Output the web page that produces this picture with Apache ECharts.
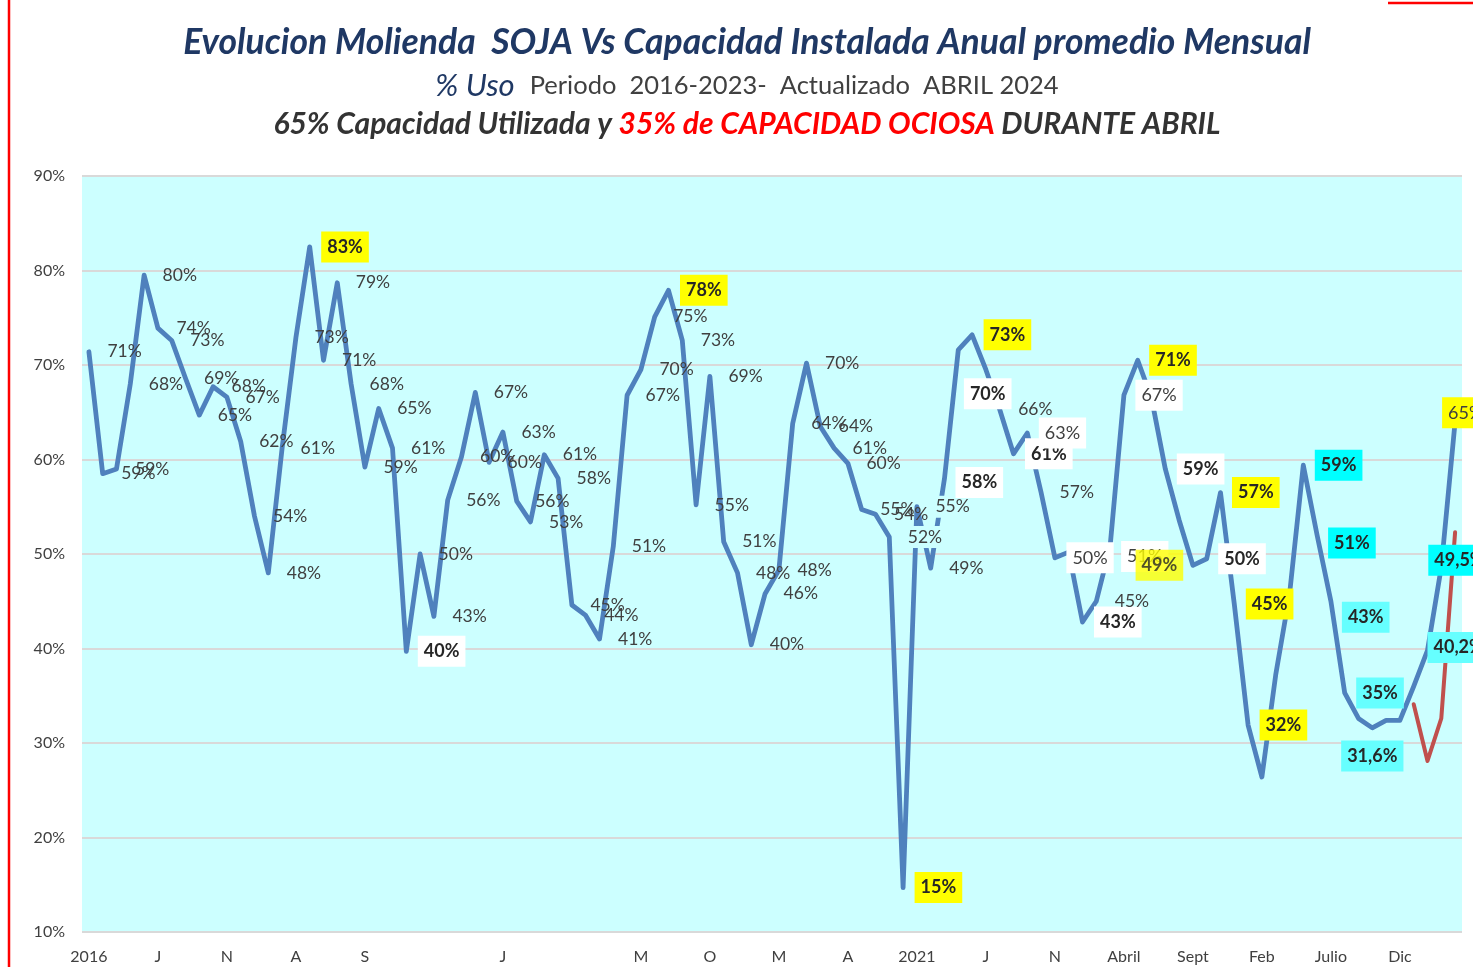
<!DOCTYPE html>
<html><head><meta charset="utf-8">
<script src="https://cdn.jsdelivr.net/npm/echarts@6/dist/echarts.min.js"></script>
<style>html,body{margin:0;padding:0;background:#fff}#c{width:1473px;height:967px}</style>
</head><body><div id="c"></div>
<script>
// Categories: monthly, Jan 2016 .. Apr 2024
const months = [];
for (let y = 2016; y <= 2024; y++) for (let m = 1; m <= 12; m++) { if (y === 2024 && m > 4) break; months.push(y + '-' + (m < 10 ? '0' + m : m)); }

// Tick labels shown every 5 months
const tickLabels = ['2016','J','N','A','S','','J','','M','O','M','A','2021','J','N','Abril','Sept','Feb','Julio','Dic'];

// % Uso capacidad (blue line)
const usoValues = [
  71.4,58.5,59.0,68.0,79.5,73.9,72.6,68.6,64.7,67.7,66.6,61.9,
  54.0,48.0,61.2,72.9,82.5,70.5,78.7,68.0,59.2,65.4,61.2,39.7,
  50.0,43.4,55.7,60.3,67.1,59.7,62.9,55.6,53.4,60.5,58.0,44.6,
  43.5,41.0,50.8,66.8,69.5,75.1,77.9,72.6,55.2,68.8,51.3,48.0,
  40.4,45.8,48.3,63.8,70.2,63.5,61.2,59.6,54.7,54.2,51.8,14.7,
  55.0,48.5,58.0,71.6,73.2,69.5,65.3,60.6,62.8,56.5,49.6,50.2,
  42.8,45.0,50.8,66.8,70.5,66.5,59.0,53.6,48.8,49.5,56.5,44.7,
  31.9,26.4,37.2,45.7,59.4,52.0,45.0,35.3,32.6,31.6,32.4,32.4,
  36.0,39.8,48.6,64.0
];

// Second (red) line, 2024 only
const redValues = [
  null,null,null,null,null,null,null,null,null,null,null,null,
  null,null,null,null,null,null,null,null,null,null,null,null,
  null,null,null,null,null,null,null,null,null,null,null,null,
  null,null,null,null,null,null,null,null,null,null,null,null,
  null,null,null,null,null,null,null,null,null,null,null,null,
  null,null,null,null,null,null,null,null,null,null,null,null,
  null,null,null,null,null,null,null,null,null,null,null,null,
  null,null,null,null,null,null,null,null,null,null,null,null,
  34.1,28.1,32.6,52.3
];

// Data label texts (as printed)
const labelTexts = [
  '71%','59%','59%','68%','80%','74%','73%','69%','65%','68%','67%','62%',
  '54%','48%','61%','73%','83%','71%','79%','68%','59%','65%','61%','40%',
  '50%','43%','56%','60%','67%','60%','63%','56%','53%','61%','58%','45%',
  '44%','41%','51%','67%','70%','75%','78%','73%','55%','69%','51%','48%',
  '40%','46%','48%','64%','70%','64%','61%','60%','55%','54%','52%','15%',
  '55%','49%','58%','','73%','70%','66%','61%','63%','57%','50%','',
  '43%','45%','51%','67%','71%','','59%','','','50%','57%','45%',
  '32%','','','','59%','51%','43%','35%','','31,6%','','',
  '','40,2%','49,5%','65%'
];

// Extra free label
const extraIdx = [74];
const extraValues = [48.8];
const extraTexts = ['49%'];

// ---- styling (kept apart from data) ----
const FONT = 'Lato';
const styleGroups = {
  yellowBold: [16,42,59,64,76,82,83,84],
  whiteNormal: [68,70,74,75],
  whiteBold: [23,62,65,67,72,78,81],
  cyan: [88,89,98],
  lightCyan: [90,91,93,97],
  yellowNormal: [99],
  plotBg: [58,60]
};
// custom label placement: [dx from point to box left, dy of box centre]
const labelPlacement = {62:[11,4], 65:[-22,24], 74:[11,10], 89:[11,8], 90:[11,16], 97:[0,-3], 98:[-13,-7], 99:[-13,-9]};
const bottomLabels = [93];

function boxStyle(bg, bold) {
  return {backgroundColor: bg, padding: [7,6,6,6], distance: 11, fontWeight: bold ? 'bold' : 'normal',
          fontSize: 18, color: bold ? '#262626' : '#404040'};
}
function labelFor(i) {
  let s = null;
  if (styleGroups.yellowBold.includes(i)) s = boxStyle('#FFFF00', true);
  else if (styleGroups.whiteNormal.includes(i)) s = boxStyle('#FFFFFF', false);
  else if (styleGroups.whiteBold.includes(i)) s = boxStyle('#FFFFFF', true);
  else if (styleGroups.cyan.includes(i)) s = boxStyle('#00FFFF', true);
  else if (styleGroups.lightCyan.includes(i)) s = boxStyle('#66FFFF', true);
  else if (styleGroups.yellowNormal.includes(i)) s = boxStyle('#FFFF00', false);
  else if (styleGroups.plotBg.includes(i)) s = {backgroundColor:'#CCFFFF', padding:[2,0,2,0]};
  else s = {};
  const p = labelPlacement[i];
  if (p) { s.position = [p[0] + 0.5, p[1] + 0.5]; s.align = 'left'; s.verticalAlign = 'middle'; }
  if (bottomLabels.includes(i)) { s.position = 'bottom'; s.distance = 12; }
  return s;
}

const labelData = usoValues.map((v, i) => ({value: v, label: labelFor(i)}));
const extraData = extraIdx.map((idx, k) => [months[idx], extraValues[k]]);

const chart = echarts.init(document.getElementById('c'), null, {renderer: 'canvas'});
chart.setOption({
  animation: false,
  backgroundColor: '#FFFFFF',
  title: [
    {text: 'Evolucion Molienda  SOJA Vs Capacidad Instalada Anual promedio Mensual',
     left: 747, textAlign: 'center', top: 25, padding: 0,
     textStyle: {fontFamily: FONT, fontStyle: 'italic', fontWeight: 'bold', fontSize: 35.5, color: '#1F3864'}},
    {text: '{a|% Uso}   {b|Periodo  2016-2023-  Actualizado  ABRIL 2024}',
     left: 747, textAlign: 'center', top: 70, padding: 0,
     textStyle: {fontWeight: 'normal', rich: {
       a: {fontFamily: FONT, fontStyle: 'italic', fontWeight: 'normal', fontSize: 31, color: '#1F3864'},
       b: {fontFamily: FONT, fontWeight: 'normal', fontSize: 25.5, color: '#404040'}}}},
    {text: '{a|65% Capacidad Utilizada y }{r|35% de CAPACIDAD OCIOSA}{a| DURANTE ABRIL}',
     left: 747, textAlign: 'center', top: 109, padding: 0,
     textStyle: {rich: {
       a: {fontFamily: FONT, fontStyle: 'italic', fontWeight: 'bold', fontSize: 30, color: '#333333'},
       r: {fontFamily: FONT, fontStyle: 'italic', fontWeight: 'bold', fontSize: 30, color: '#FF0000'}}}}
  ],
  grid: {left: 82, right: 11, top: 176, bottom: 35, show: true, backgroundColor: '#CCFFFF', borderWidth: 0},
  xAxis: {
    type: 'category', data: months, boundaryGap: true,
    axisLine: {show: false}, axisTick: {show: false},
    axisLabel: {interval: 4, margin: 17, color: '#404040', fontFamily: FONT, fontSize: 16,
      formatter: (v, i) => tickLabels[Math.round(i / 5)] || ''}
  },
  yAxis: {
    type: 'value', min: 10, max: 90, interval: 10,
    axisLine: {show: false}, axisTick: {show: false},
    axisLabel: {formatter: '{value}%', margin: 17, color: '#404040', fontFamily: FONT, fontSize: 16},
    splitLine: {lineStyle: {color: '#D9D9D9', width: 2}}
  },
  series: [
    {type: 'line', name: 'Uso', data: usoValues, symbol: 'none',
     lineStyle: {color: '#4F81BD', width: 4.8, cap: 'round', join: 'round'}, itemStyle: {color: '#4F81BD'}, z: 2},
    {type: 'line', name: '2024', data: redValues, symbol: 'none', connectNulls: false,
     lineStyle: {color: '#C0504D', width: 4, cap: 'round', join: 'round'}, z: 3},
    // label layer (same values) drawn above the lines
    {type: 'line', name: 'etiquetas', data: labelData, symbol: 'circle', symbolSize: 1, showSymbol: true, showAllSymbol: true,
     lineStyle: {opacity: 0, width: 0}, itemStyle: {color: 'rgba(0,0,0,0)'},
     label: {show: true, position: 'right', distance: 18, color: '#404040', fontFamily: FONT, fontSize: 17.5,
             formatter: p => labelTexts[p.dataIndex]},
     labelLayout: {hideOverlap: false}, z: 10, zlevel: 1},
    {type: 'scatter', name: 'nota', data: extraData, symbolSize: 1, itemStyle: {color: 'rgba(0,0,0,0)'},
     label: {show: true, position: 'right', distance: 25, formatter: p => extraTexts[p.dataIndex],
             backgroundColor: '#FFFF00', padding: [7,6,6,6], fontWeight: 'bold', fontSize: 18, color: '#262626', fontFamily: FONT},
     z: 12, zlevel: 2}
  ],
  graphic: [
    {type: 'line', shape: {x1: 9, y1: 0, x2: 9, y2: 967}, style: {stroke: '#FF0000', lineWidth: 2.5}, z: 100, zlevel: 3},
    {type: 'line', shape: {x1: 1388, y1: 3, x2: 1473, y2: 3}, style: {stroke: '#FF0000', lineWidth: 2.5}, z: 100, zlevel: 3}
  ]
});
</script>
</body></html>
